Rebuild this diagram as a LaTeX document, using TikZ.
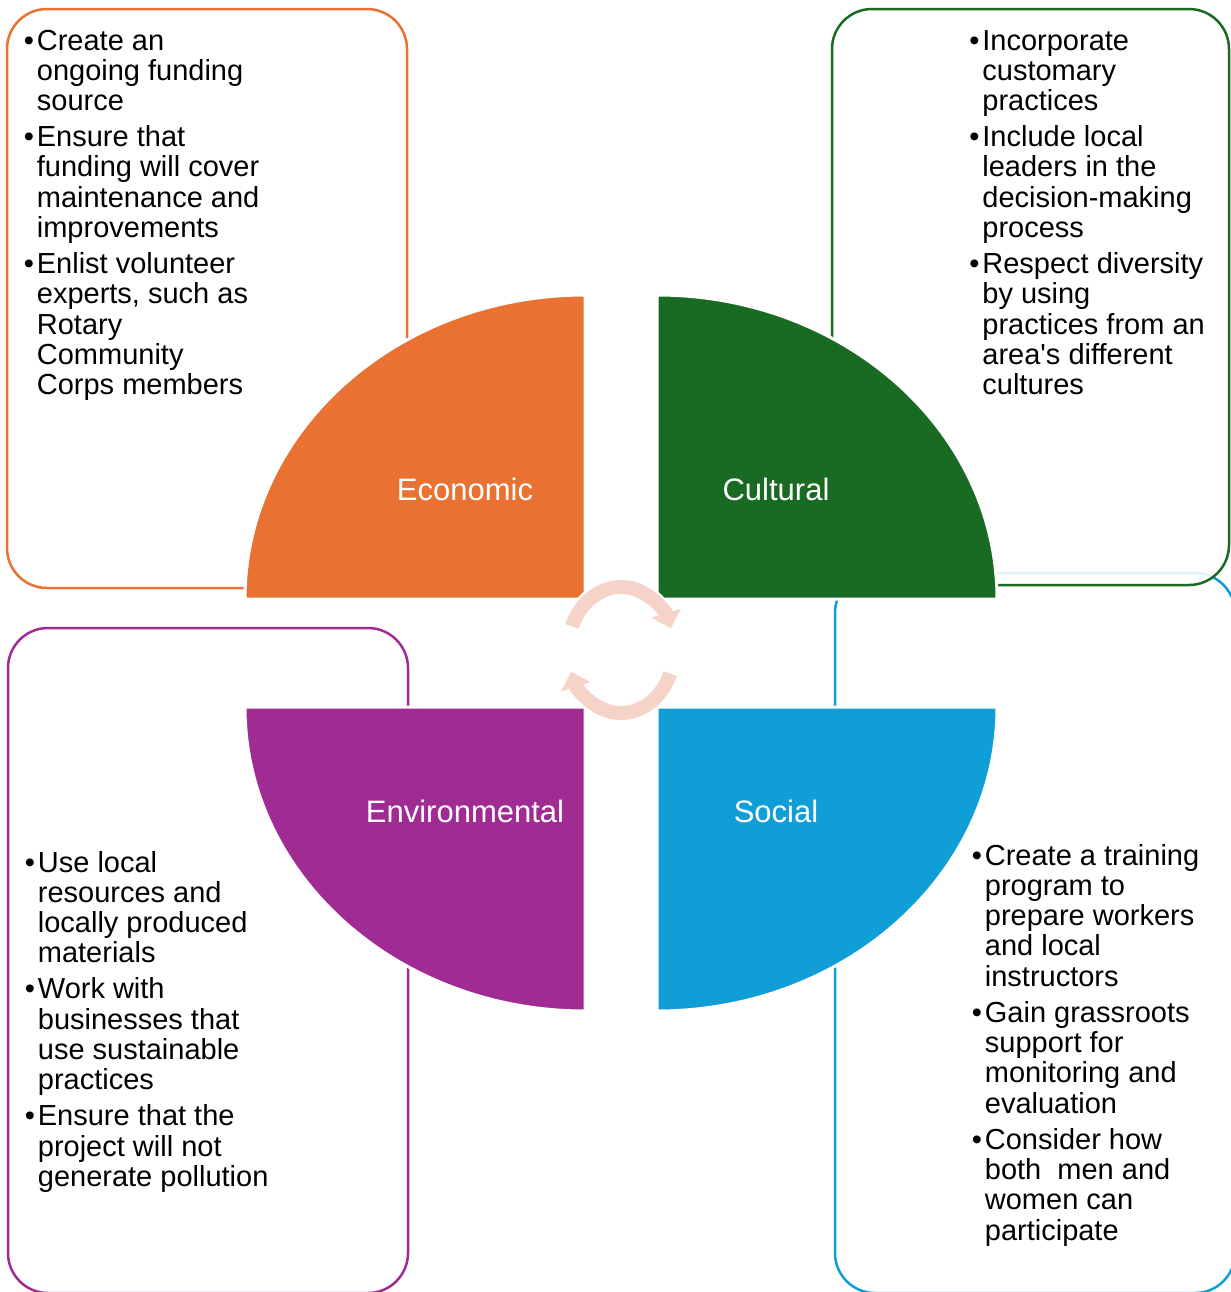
\documentclass[tikz,border=0pt]{standalone}
\usepackage{fontspec}
\setmainfont{Liberation Sans}
\usepackage{tikz}
\usetikzlibrary{arrows.meta}
\definecolor{ecoorange}{HTML}{E97132}
\definecolor{culgreen}{HTML}{196B24}
\definecolor{socblue}{HTML}{0F9ED5}
\definecolor{envpurple}{HTML}{A02B93}
\definecolor{cyclepink}{HTML}{F6D3C8}
\tikzstyle{panel}      = [rounded corners=20pt, line width=1.25pt, fill=white]
\tikzstyle{quarter}    = [draw=white, line width=1.5pt]
\tikzstyle{heading}    = [anchor=base, text=white, font=\fontsize{15.5}{18}\selectfont]
\tikzstyle{bullets}    = [anchor=base west, inner sep=0pt, font=\fontsize{14.5}{15.15}\selectfont]
\tikzstyle{cyclearrow} = [line width=7pt, draw=cyclepink, -{Triangle[width=15pt, length=8pt]}]
\newcommand{\bl}{\makebox[6.5pt][l]{\textbullet}}

\begin{document}
\begin{tikzpicture}[x=0.5pt, y=-0.5pt]
    \useasboundingbox (0,0) rectangle (1231,1292);

    % outer panels
    \draw[panel, draw=socblue] (835,573) rectangle (1235,1293);
    \draw[panel, draw=envpurple] (8,628) rectangle (408,1293);
    \draw[panel, draw=ecoorange] (7,9) rectangle (407,588);
    \draw[panel, draw=culgreen, fill opacity=0.88] (832,9) rectangle (1229,585);

    % quarter shapes
    \filldraw[fill=ecoorange, quarter] (245,599) arc[start angle=180, end angle=90, x radius=170pt, y radius=152pt] -- (585,599) -- cycle;
    \filldraw[fill=culgreen, quarter] (657,295) arc[start angle=90, end angle=0, x radius=170pt, y radius=152pt] -- (657,599) -- cycle;
    \filldraw[fill=envpurple, quarter] (245,707) arc[start angle=180, end angle=270, x radius=170pt, y radius=152pt] -- (585,707) -- cycle;
    \filldraw[fill=socblue, quarter] (997,707) arc[start angle=0, end angle=-90, x radius=170pt, y radius=152pt] -- (657,707) -- cycle;

    \node (eco) [heading] at (465,500) {Economic};
    \node (cul) [heading] at (776,500) {Cultural};
    \node (env) [heading] at (465,822) {Environmental};
    \node (soc) [heading] at (776,822) {Social};

    % cycle arrows
    \coordinate (hub) at (621,650);
    \draw[white, line width=9.5pt] ([shift={(-49.1,-23.6)}]hub) arc[start angle=158, end angle=32, x radius=26.5pt, y radius=31.5pt];
    \draw[white, line width=9.5pt] ([shift={(49.1,23.6)}]hub) arc[start angle=-22, end angle=-148, x radius=26.5pt, y radius=31.5pt];
    \draw[cyclearrow] ([shift={(-49.1,-23.6)}]hub) arc[start angle=158, end angle=20, x radius=26.5pt, y radius=31.5pt];
    \draw[cyclearrow] ([shift={(49.1,23.6)}]hub) arc[start angle=-22, end angle=-160, x radius=26.5pt, y radius=31.5pt];

    % bullet lists
    \node (ecotext) [bullets] at (23.5,50) {\begin{tabular}[t]{@{}l@{}l@{}}
        \bl & Create an\\ & ongoing funding\\ & source\\[2.85pt]
        \bl & Ensure that\\ & funding will cover\\ & maintenance and\\ & improvements\\[2.85pt]
        \bl & Enlist volunteer\\ & experts, such as\\ & Rotary\\ & Community\\ & Corps members
    \end{tabular}};
    \node (cultext) [bullets] at (969,50) {\begin{tabular}[t]{@{}l@{}l@{}}
        \bl & Incorporate\\ & customary\\ & practices\\[2.85pt]
        \bl & Include local\\ & leaders in the\\ & decision-making\\ & process\\[2.85pt]
        \bl & Respect diversity\\ & by using\\ & practices from an\\ & area\textquotesingle s different\\ & cultures
    \end{tabular}};
    \node (envtext) [bullets] at (24.5,872) {\begin{tabular}[t]{@{}l@{}l@{}}
        \bl & Use local\\ & resources and\\ & locally produced\\ & materials\\[2.85pt]
        \bl & Work with\\ & businesses that\\ & use sustainable\\ & practices\\[2.85pt]
        \bl & Ensure that the\\ & project will not\\ & generate pollution
    \end{tabular}};
    \node (soctext) [bullets] at (971.5,865) {\begin{tabular}[t]{@{}l@{}l@{}}
        \bl & Create a training\\ & program to\\ & prepare workers\\ & and local\\ & instructors\\[2.85pt]
        \bl & Gain grassroots\\ & support for\\ & monitoring and\\ & evaluation\\[2.85pt]
        \bl & Consider how\\ & both\ \ men and\\ & women can\\ & participate
    \end{tabular}};
\end{tikzpicture}
\end{document}
